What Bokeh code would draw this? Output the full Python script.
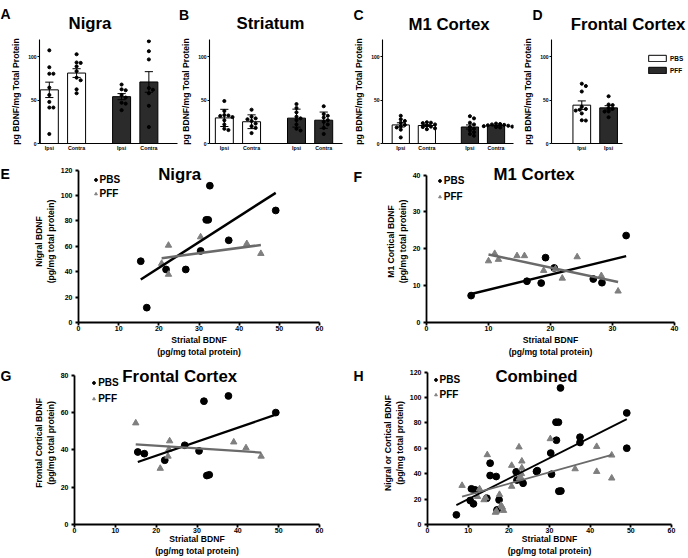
import numpy as np
from bokeh.plotting import figure
from bokeh.layouts import row, column
from bokeh.models import Label, Legend, LegendItem, FixedTicker, Range1d
from bokeh.embed import file_html
from bokeh.resources import INLINE

# ---------------- data: pg BDNF / mg total protein ----------------
bar_tick_labels = ["Ipsi", "Contra", "Ipsi", "Contra"]

nigra_pbs_ipsi = [107.5, 88, 80.5, 80.5, 64.5, 56, 48, 41.5, 41.5, 11]
nigra_pbs_contra = [103, 93.5, 93, 89, 83.5, 76, 73, 62.5, 58]
nigra_pff_ipsi = [68, 62.5, 61.5, 56, 53, 47, 46, 38.5]
nigra_pff_contra = [118, 106.5, 97, 64, 62, 58, 43.5, 19]

striatum_pbs_ipsi = [49, 37.5, 32.8, 32.3, 31.8, 30.5, 26.8, 22, 17, 15.5]
striatum_pbs_contra = [39, 31, 29, 28, 26, 23, 20, 18, 12]
striatum_pff_ipsi = [45.5, 41, 36, 31, 29, 27, 22, 17, 15]
striatum_pff_contra = [43, 34, 32, 30, 27, 25, 22, 18, 11]

m1_pbs_ipsi = [32, 28, 26, 24, 21.5, 20, 18.5, 16, 7]
m1_pbs_contra = [24.5, 24, 23.5, 22, 20.5, 19.5, 19, 17.5, 16.5]
m1_pff_ipsi = [31.5, 29, 24, 22, 19, 17, 15, 13, 11, 9]
m1_pff_contra = [23, 22.5, 22, 21.5, 21, 20.5, 20, 19.5, 19, 18.5]

frontal_pbs_ipsi = [69, 66.3, 60, 42.5, 39.8, 39, 38, 34.7, 26.8, 26.5]
frontal_pff_ipsi = [54.5, 45, 44.3, 41, 40, 37, 36.8, 30.3]

# E: nigral vs striatal
e_pbs_x = [15.5, 17.0, 21.8, 26.7, 30.4, 31.8, 32.3, 32.7, 37.4, 49.1]
e_pbs_y = [48.3, 11.7, 41.8, 41.8, 56.4, 80.9, 80.9, 107.8, 64.8, 88.3]
e_pff_x = [20.7, 22.4, 22.4, 30.4, 41.9, 45.4]
e_pff_y = [46.5, 60.8, 37.9, 67.4, 62.1, 54.3]

# F: M1 cortical vs striatal
f_pbs_x = [7.2, 16.2, 18.5, 19.2, 20.6, 26.9, 28.3, 32.2]
f_pbs_y = [7.3, 11.2, 10.7, 17.6, 14.8, 11.8, 10.8, 23.6]
f_pff_x = [10.0, 11.0, 11.6, 14.6, 15.8, 18.9, 20.8, 21.9, 24.3, 28.2, 30.9]
f_pff_y = [16.7, 18.7, 17.1, 18.1, 18.1, 14.1, 14.5, 12.0, 17.8, 12.7, 8.5]

# G: frontal cortical vs striatal
g_pbs_x = [15.5, 17.1, 22.1, 27.0, 30.5, 31.7, 32.4, 33.0, 37.7, 49.3]
g_pbs_y = [38.8, 37.9, 34.4, 42.4, 39.4, 66.0, 26.2, 26.6, 68.8, 59.9]
g_pff_x = [15.0, 21.0, 22.9, 23.1, 23.3, 39.0, 42.0, 45.7]
g_pff_y = [54.3, 30.0, 36.5, 40.2, 44.7, 44.1, 41.0, 36.5]

# H: combined
h_pbs_x = [7.1, 10.5, 10.8, 11.3, 11.7, 14.6, 15.4, 15.4, 16.9, 17.1, 17.6, 21.8, 22.0, 23.5,
           26.8, 27.0, 30.3, 30.5, 31.6, 32.2, 31.7, 32.3, 32.8, 32.7, 37.5, 37.5, 49.0, 49.0]
h_pbs_y = [7.6, 18.9, 28.1, 16.3, 27.3, 20.7, 48.3, 38.6, 37.8, 11.5, 19.4, 41.5, 35.0, 32.5,
           41.8, 42.4, 56.3, 39.6, 80.6, 80.6, 66.4, 26.2, 26.4, 107.6, 68.8, 64.6, 87.9, 60.1]
h_pff_x = [8.5, 12.3, 12.8, 13.9, 14.3, 14.7, 16.7, 17.0, 17.7, 18.1, 18.4, 18.7, 20.7, 20.7,
           22.5, 22.6, 22.9, 23.1, 23.2, 23.2, 30.2, 36.3, 41.6, 41.6, 45.3, 45.3]
h_pff_y = [30.7, 22.0, 28.0, 19.4, 21.0, 54.9, 9.5, 10.5, 23.6, 15.0, 13.6, 11.0, 46.5, 30.0,
           61.0, 36.5, 37.3, 40.0, 49.9, 44.6, 67.5, 43.8, 61.4, 41.7, 54.6, 36.5]

# ---------------- style / layout helpers ----------------
FONT = "Liberation Sans"
PFF_FILL = "#2b2b2b"
TRI_COLOR = "#7f7f7f"
PFF_LINE = "#6a6a6a"


def fs(v):
    return f"{v}px"


def base_fig(width, height, xr, yr, borders, axes=True):
    kw = dict(width=width, height=height, x_range=Range1d(*xr), y_range=Range1d(*yr),
              min_border_left=borders[0], min_border_right=borders[1],
              min_border_top=borders[2], min_border_bottom=borders[3],
              output_backend="svg", toolbar_location=None, title=None)
    if not axes:
        kw.update(x_axis_type=None, y_axis_type=None)
    p = figure(**kw)
    p.outline_line_color = None
    p.grid.visible = False
    p.background_fill_color = "white"
    p.border_fill_color = "white"
    return p


def text_fig(x0, x1, y0, y1, texts):
    """A frame-only strip whose data coordinates are page pixels, holding panel letters/titles."""
    p = base_fig(x1 - x0, y1 - y0, (x0, x1), (y1, y0), (0, 0, 0, 0), axes=False)
    for x, y, t, size, align in texts:
        p.add_layout(Label(x=x, y=y, text=t, text_font=FONT, text_font_style="bold",
                           text_font_size=size, text_color="black", text_align=align,
                           text_baseline="alphabetic"))
    return p


def make_panel(box, frame, xr, yr):
    bx0, bx1, by0, by1 = [round(v) for v in box]
    fx0, fx1, fy0, fy1 = [round(v) for v in frame]
    p = base_fig(bx1 - bx0, by1 - by0, xr, yr,
                 (fx0 - bx0, bx1 - fx1, fy0 - by0, by1 - fy1))

    def to_data(rx, ry):
        dx = xr[0] + (rx - fx0) / (fx1 - fx0) * (xr[1] - xr[0])
        dy = yr[0] + (fy1 - ry) / (fy1 - fy0) * (yr[1] - yr[0])
        return dx, dy

    return p, to_data, (fx0, fx1, fy0, fy1)


def style_axis(ax, tick_size, label_size, lw, tick_out, standoff, label_standoff):
    ax.axis_line_color = "black"
    ax.axis_line_width = lw
    ax.major_tick_line_color = "black"
    ax.major_tick_line_width = lw
    ax.major_tick_in = 0
    ax.major_tick_out = tick_out
    ax.minor_tick_line_color = None
    ax.major_label_text_font = FONT
    ax.major_label_text_font_style = "bold"
    ax.major_label_text_font_size = tick_size
    ax.major_label_text_color = "black"
    ax.major_label_standoff = standoff
    ax.axis_label_text_font = FONT
    ax.axis_label_text_font_style = "bold"
    ax.axis_label_text_font_size = label_size
    ax.axis_label_text_color = "black"
    ax.axis_label_standoff = label_standoff


def add_text(p, to_data, rx, ry, text, size, align="left"):
    x, y = to_data(rx, ry)
    p.add_layout(Label(x=x, y=y, text=text, text_font=FONT, text_font_style="bold",
                       text_font_size=size, text_color="black", text_align=align,
                       text_baseline="alphabetic"))


def swarm(vals, center, px_x, px_y, d=3.4):
    vals = np.asarray(vals, float)
    xs = np.full(len(vals), float(center))
    placed = []
    for i in np.argsort(-vals):
        y = vals[i] * px_y
        off = 0.0
        for k in range(40):
            off = ((k + 1) // 2) * (1 if k % 2 else -1) * d * 0.6
            if all((off - a) ** 2 + (y - b) ** 2 >= d * d for a, b in placed):
                break
        placed.append((off, y))
        xs[i] = center + off / px_x
    return xs


BAR_POS = [20, 40, 73, 93]
BAR_W = 13.2
CAP = 3.0


def bar_panel(box, frame, xr, groups, use_sd, axis_end=None, legend=False):
    p, to_data, (fx0, fx1, fy0, fy1) = make_panel(box, frame, xr, (0, 120))
    px_x = (fx1 - fx0) / (xr[1] - xr[0])
    px_y = (fy1 - fy0) / 120.0
    n = len(groups)
    pos = BAR_POS[:n]
    means = [float(np.mean(g)) for g in groups]
    errs = [float(np.std(g, ddof=1)) / (1.0 if use_sd else np.sqrt(len(g))) for g in groups]
    half = n // 2
    r_pbs = p.vbar(x=pos[:half], top=means[:half], bottom=0, width=BAR_W,
                   fill_color="white", line_color="black", line_width=1)
    r_pff = p.vbar(x=pos[half:], top=means[half:], bottom=0, width=BAR_W,
                   fill_color=PFF_FILL, line_color="black", line_width=1)
    lo = [m - e for m, e in zip(means, errs)]
    hi = [m + e for m, e in zip(means, errs)]
    p.segment(x0=pos, y0=lo, x1=pos, y1=hi, line_color="black", line_width=1)
    p.segment(x0=[x - CAP for x in pos], y0=hi, x1=[x + CAP for x in pos], y1=hi,
              line_color="black", line_width=1)
    p.segment(x0=[x - CAP for x in pos], y0=lo, x1=[x + CAP for x in pos], y1=lo,
              line_color="black", line_width=1)
    for g, x in zip(groups, pos):
        p.scatter(swarm(g, x, px_x, px_y), g, size=3.1, color="black")

    style_axis(p.xaxis[0], fs(5.3), fs(8.6), 1.1, 0, 1, 2)
    style_axis(p.yaxis[0], fs(5.0), fs(8.6), 1.1, 2, 1, 4)
    p.xaxis.ticker = FixedTicker(ticks=pos)
    labels = bar_tick_labels if n == 4 else [bar_tick_labels[0], bar_tick_labels[2]]
    p.xaxis.major_label_overrides = {x: lab for x, lab in zip(pos, labels)}
    if axis_end is not None:
        p.xaxis.bounds = (xr[0], axis_end)
    p.yaxis.ticker = FixedTicker(ticks=[0, 50, 100])
    p.yaxis.axis_label = "pg BDNF/mg Total Protein"

    if legend:
        lg = Legend(items=[LegendItem(label="PBS", renderers=[r_pbs]),
                           LegendItem(label="PFF", renderers=[r_pff])],
                    location=(645 - fx0, fy1 - 74.3),
                    orientation="vertical", margin=0, padding=0,
                    glyph_width=22, glyph_height=8, label_height=8,
                    spacing=4, label_standoff=2,
                    border_line_color=None, background_fill_alpha=0,
                    label_text_font=FONT, label_text_font_style="bold",
                    label_text_font_size=fs(6.4), label_text_color="black")
        p.add_layout(lg)
    return p


def scatter_panel(box, frame, y_at_max, xmax, ymax, xstep, ystep, ylabel,
                  pbs_x, pbs_y, pff_x, pff_y, title, title_xy, leg_xy, leg_pitch, line_w,
                  xlabel_standoff=1):
    # frame = (x0, x1, extended top, y of zero); y_at_max = pixel row of ymax
    fx0, fx1, ftop, fbot = [round(v) for v in frame]
    ppu = (frame[3] - y_at_max) / ymax
    yr_end = (fbot - ftop) / ppu
    p, to_data, _ = make_panel(box, frame, (0, xmax), (0, yr_end))
    r1 = p.scatter(pbs_x, pbs_y, marker="circle", size=6.8, color="black")
    r2 = p.scatter(pff_x, pff_y, marker="triangle", size=6.4, color=TRI_COLOR)
    for xs, ys, col in ((pbs_x, pbs_y, "black"), (pff_x, pff_y, PFF_LINE)):
        k, b = np.polyfit(xs, ys, 1)
        lx = np.array([min(xs), max(xs)])
        p.line(lx, k * lx + b, line_color=col, line_width=line_w)

    style_axis(p.xaxis[0], fs(7.0), fs(8.6), 1.8, 3, 0, xlabel_standoff)
    style_axis(p.yaxis[0], fs(7.0), fs(8.6), 1.8, 3, 3, 2)
    p.xaxis.ticker = FixedTicker(ticks=list(range(0, xmax + 1, xstep)))
    p.yaxis.ticker = FixedTicker(ticks=list(range(0, ymax + 1, ystep)))
    p.yaxis.bounds = (0, ymax)
    p.xaxis.axis_label = "Striatal BDNF\n(pg/mg total protein)"
    p.yaxis.axis_label = ylabel

    add_text(p, to_data, title_xy[0], title_xy[1], title, fs(16.8), "center")

    gh = 13
    lg = Legend(items=[LegendItem(label="PBS", renderers=[r1]),
                       LegendItem(label="PFF", renderers=[r2])],
                location=(leg_xy[0] - 3.5 - fx0, fbot - (leg_xy[1] + leg_pitch + gh / 2)),
                orientation="vertical", margin=0, padding=0,
                glyph_width=7, glyph_height=gh, label_height=gh,
                spacing=max(round(leg_pitch - gh), 0), label_standoff=1,
                border_line_color=None, background_fill_alpha=0,
                label_text_font=FONT, label_text_font_style="bold",
                label_text_font_size=fs(10), label_text_color="black")
    p.add_layout(lg)
    return p


# ---------------- panels ----------------
TITLE = fs(16.8)
LETTER = fs(14)
strip = text_fig(0, 688, 0, 33, [
    (0, 13.5, "A", LETTER, "left"), (178.5, 14, "B", LETTER, "left"),
    (353, 14, "C", LETTER, "left"), (532, 14, "D", LETTER, "left"),
    (89.5, 23.3, "Nigra", TITLE, "center"), (270, 23.3, "Striatum", TITLE, "center"),
    (448.5, 24, "M1 Cortex", TITLE, "center"), (627.5, 24, "Frontal Cortex", TITLE, "center"),
])

pA = bar_panel((0, 178, 33, 158), (39, 177, 38.6, 143), (12.8, 114.0),
               [nigra_pbs_ipsi, nigra_pbs_contra, nigra_pff_ipsi, nigra_pff_contra], False)
pB = bar_panel((178, 350, 33, 158), (209, 342, 38.6, 143), (9.1, 106.8),
               [striatum_pbs_ipsi, striatum_pbs_contra, striatum_pff_ipsi, striatum_pff_contra], True)
pC = bar_panel((350, 520, 33, 158), (382, 513, 38.6, 143), (6.0, 106.4),
               [m1_pbs_ipsi, m1_pbs_contra, m1_pff_ipsi, m1_pff_contra], False)
pD = bar_panel((520, 688, 33, 158), (550, 688, 38.6, 143), (-2.6, 99.6),
               [frontal_pbs_ipsi, frontal_pff_ipsi], False, axis_end=50.7, legend=True)

letE = text_fig(0, 30, 158, 359, [(0, 175, "E", LETTER, "left")])
letF = text_fig(345, 375, 158, 359, [(353, 178, "F", LETTER, "left")])
letG = text_fig(0, 30, 359, 558, [(0, 377, "G", LETTER, "left")])
letH = text_fig(345, 375, 359, 558, [(353, 377, "H", LETTER, "left")])

pE = scatter_panel((30, 345, 158, 359), (76, 319, 160, 322.7), 169.5, 60, 120, 10, 20,
                   "Nigral BDNF\n(pg/mg total protein)", e_pbs_x, e_pbs_y, e_pff_x, e_pff_y,
                   "Nigra", (178, 174.3), (93, 180), 14.3, 2.5)
pF = scatter_panel((375, 688, 158, 359), (426, 674, 160, 323.5), 174.3, 40, 40, 10, 10,
                   "M1 Cortical BDNF\n(pg/mg total protein)", f_pbs_x, f_pbs_y, f_pff_x, f_pff_y,
                   "M1 Cortex", (533.6, 174.3), (439.3, 182.3), 16, 2.5)
pG = scatter_panel((30, 345, 359, 558), (71, 319, 361, 524.7), 374.3, 60, 80, 10, 20,
                   "Frontal Cortical BDNF\n(pg/mg total protein)", g_pbs_x, g_pbs_y, g_pff_x, g_pff_y,
                   "Frontal Cortex", (177.5, 376), (90.7, 383.3), 16, 2.3, xlabel_standoff=-2)
pH = scatter_panel((375, 688, 359, 558), (427, 671, 361, 524), 371.7, 60, 120, 10, 20,
                   "Nigral or Cortical BDNF\n(pg/mg total protein)", h_pbs_x, h_pbs_y, h_pff_x, h_pff_y,
                   "Combined", (536, 376), (435, 379.3), 14.7, 1.8, xlabel_standoff=-2)

layout = column(strip, row(pA, pB, pC, pD), row(letE, pE, letF, pF), row(letG, pG, letH, pH))
open("out.html", "w").write(file_html(layout, INLINE))
